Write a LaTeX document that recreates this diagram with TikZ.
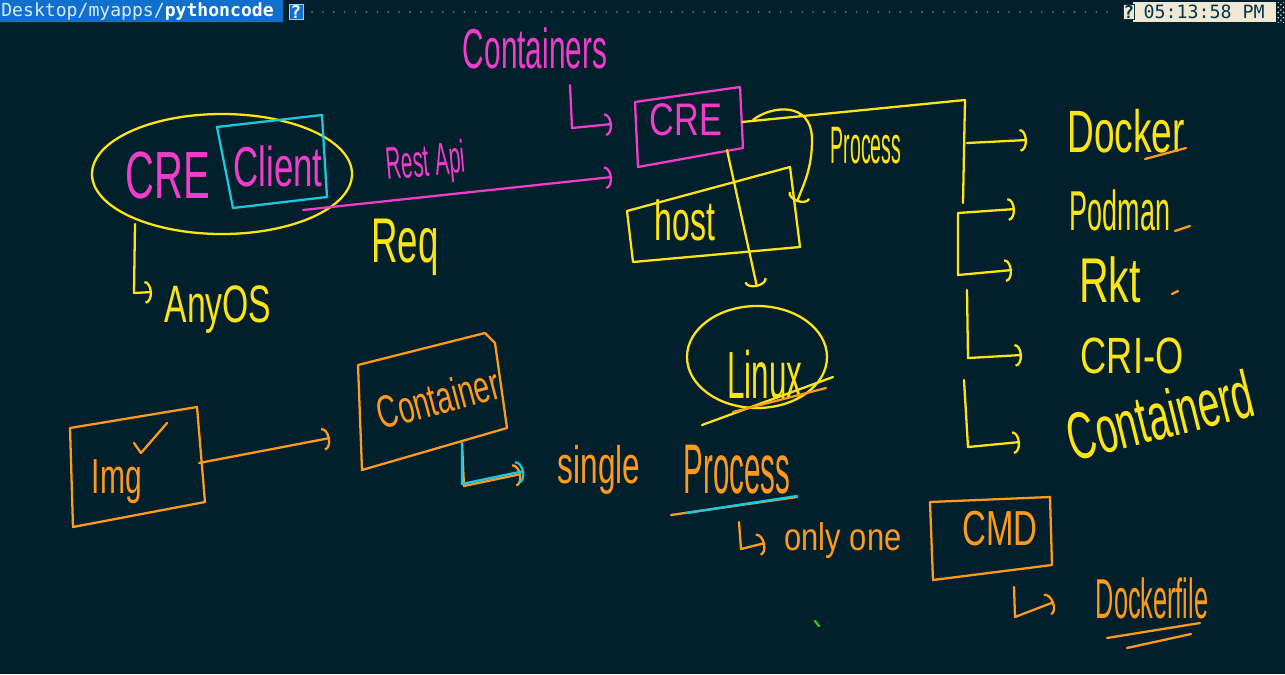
\documentclass[tikz,border=0pt]{standalone}
\usepackage{fontspec}
\setmainfont{Liberation Sans}
\setmonofont{DejaVu Sans Mono}
\usepackage{xcolor}
\usepackage{tikz}
\usetikzlibrary{arrows.meta}
\usetikzlibrary{patterns}

\definecolor{board}{HTML}{01202B}
\definecolor{barblue}{HTML}{1170CC}
\definecolor{clockbg}{HTML}{EEE8D5}
\definecolor{clockfg}{HTML}{073642}
\definecolor{dotgray}{HTML}{5D6F75}
\definecolor{inkyellow}{HTML}{FFE414}
\definecolor{inkpink}{HTML}{F23CCB}
\definecolor{inkcyan}{HTML}{1CC8DE}
\definecolor{inkorange}{HTML}{FF9A1C}
\definecolor{inkgreen}{HTML}{22CC22}

\newcommand{\ink}[1]{\fontsize{#1}{#1}\selectfont}

\tikzset{
  pen/.style={line width=1.3pt, line cap=round, line join=round},
  yel/.style={pen, draw=inkyellow},
  pnk/.style={pen, draw=inkpink},
  cyn/.style={pen, draw=inkcyan},
  org/.style={pen, draw=inkorange},
  barbed/.style={-{Arc Barb[length=4pt,width=13pt]}},
  scrawl/.style={inner sep=0pt, anchor=base},
}

\begin{document}
\begin{tikzpicture}[x=0.02cm, y=-0.02cm]
    % Fond
    \fill[board] (0,0) rectangle (1285,674);
    \useasboundingbox (0,0) rectangle (1285,674);

    % Barre du terminal
    \fill[barblue] (0,0) rectangle (283,22);
    \node[anchor=west, inner sep=0pt, text=white!85!barblue, font=\ttfamily\fontsize{10.3}{12}\selectfont] (cwd) at (1,11) {Desktop/myapps/\textbf{\color{white}pythoncode}};
    \node[draw=cyan!50!white, fill=barblue, text=white, inner sep=0pt, minimum width=0.28cm, minimum height=0.3cm, font=\ttfamily\bfseries\fontsize{10}{12}\selectfont] (helpl) at (296,12) {?};
    \coordinate (dotsend) at (1117,12);
    \draw[dotgray, line width=1.2pt, line cap=round, dash pattern=on 0pt off 6.2pt] (312,12) -- (dotsend);
    \fill[clockbg] (1133,2) rectangle (1276,22);
    \node[draw=clockfg, fill=clockbg, text=clockfg, inner sep=0pt, minimum width=0.22cm, minimum height=0.3cm, font=\ttfamily\bfseries\fontsize{10}{12}\selectfont] (helpr) at (1129,12) {?};
    \node[text=clockfg, inner sep=0pt, font=\ttfamily\fontsize{10.4}{12}\selectfont] (clock) at (1204,12) {05:13:58 PM};
    \fill[pattern=crosshatch dots, pattern color=clockbg] (1277,2) rectangle (1285,22);

    % Client CRE
    \coordinate (cloud) at (222,174);
    \draw[yel] (cloud) ellipse [x radius=130, y radius=60];
    \node[scrawl, text=inkpink, font=\ink{38}, xscale=0.6] (crelocal) at (168,198) {CRE};
    \draw[cyn] (217,127) -- (322,115) -- (327,197) -- (233,208) -- cycle;
    \node[scrawl, text=inkpink, font=\ink{32}, xscale=0.62] (client) at (278,186) {Client};

    % Requete REST
    \coordinate (reqfrom) at (303,210);
    \coordinate (reqto) at (612,177);
    \draw[pnk, barbed] (reqfrom) -- (reqto);
    \node[scrawl, text=inkpink, font=\ink{26}, rotate=5, xscale=0.46] (restapi) at (427,176) {Rest Api};
    \node[scrawl, text=inkyellow, font=\ink{36}, xscale=0.58] (req) at (405,262) {Req};

    % N'importe quel OS
    \coordinate (osfrom) at (135,224);
    \coordinate (osto) at (152,292);
    \draw[yel, barbed] (osfrom) -- (134,293) -- (osto);
    \node[scrawl, text=inkyellow, font=\ink{30}, xscale=0.64] (anyos) at (218,322) {AnyOS};

    % Containers -> CRE
    \node[scrawl, text=inkpink, font=\ink{32}, xscale=0.53] (containers) at (535,68) {Containers};
    \coordinate (cstem) at (570,85);
    \coordinate (crein) at (612,124);
    \draw[pnk, barbed] (cstem) -- (572,128) -- (crein);
    \draw[pnk] (635,102) -- (740,87) -- (743,148) -- (638,167) -- cycle;
    \node[scrawl, text=inkpink, font=\ink{26}, xscale=0.75] (cre) at (686,135) {CRE};

    % Host
    \draw[yel] (627,211) -- (790,167) -- (800,247) -- (633,262) -- cycle;
    \node[scrawl, text=inkyellow, font=\ink{32}, xscale=0.57] (host) at (685,240) {host};
    \coordinate (loopfrom) at (753,120);
    \coordinate (loopto) at (797,202);
    \draw[yel, barbed] (loopfrom) .. controls (770,106) and (812,100) .. (812,140) .. controls (812,170) and (803,185) .. (loopto);
    \node[scrawl, text=inkyellow, font=\ink{30}, xscale=0.37] (process) at (866,163) {Process};

    % Linux
    \coordinate (credown) at (727,150);
    \coordinate (linuxtop) at (757,287);
    \draw[yel, barbed] (credown) -- (linuxtop);
    \coordinate (linux) at (757,357);
    \draw[yel] (linux) ellipse [x radius=70, y radius=51];
    \node[scrawl, text=inkyellow, font=\ink{38}, xscale=0.47] (linuxlbl) at (765,398) {Linux};
    \draw[yel] (702,425) -- (833,377);
    \draw[org] (733,412) -- (826,388);

    % Runtimes
    \coordinate (creout) at (742,122);
    \coordinate (rtop) at (965,100);
    \draw[yel] (creout) -- (rtop) -- (963,203);
    \draw[yel, barbed] (967,143) -- (1027,140);
    \draw[yel, barbed] (958,213) -- (1015,209);
    \draw[yel, barbed] (958,213) -- (958,275) -- (1012,270);
    \draw[yel, barbed] (967,290) -- (968,358) -- (1022,355);
    \draw[yel, barbed] (964,380) -- (968,447) -- (1020,442);

    \node[scrawl, text=inkyellow, font=\ink{34}, xscale=0.62] (docker) at (1126,152) {Docker};
    \node[scrawl, text=inkyellow, font=\ink{32}, xscale=0.48] (podman) at (1120,230) {Podman};
    \node[scrawl, text=inkyellow, font=\ink{36}, xscale=0.65] (rkt) at (1110,302) {Rkt};
    \node[scrawl, text=inkyellow, font=\ink{29}, xscale=0.71] (crio) at (1132,373) {CRI-O};
    \node[inner sep=0pt, text=inkyellow, font=\ink{38}, rotate=14, xscale=0.58] (containerd) at (1160,415) {Containerd};
    \draw[org] (1145,159) -- (1186,148);
    \draw[org] (1175,231) -- (1190,226);
    \draw[org] (1172,294) -- (1178,291);

    % Image -> Container
    \draw[org] (70,428) -- (197,407) -- (205,502) -- (73,527) -- cycle;
    \node[scrawl, text=inkorange, font=\ink{28}, xscale=0.61] (img) at (117,493) {Img};
    \draw[org] (134,443) -- (141,453) -- (167,423);
    \coordinate (imgout) at (199,463);
    \coordinate (ctrin) at (330,438);
    \draw[org, barbed] (imgout) -- (ctrin);
    \draw[org] (358,365) -- (485,333) -- (495,343) -- (507,428) -- (362,470) -- cycle;
    \node[inner sep=0pt, text=inkorange, font=\ink{26}, rotate=15, xscale=0.63] (container) at (438,398) {Container};

    % Single process
    \coordinate (ctrbot) at (462,443);
    \draw[org, barbed] (ctrbot) -- (464,486) -- (521,474);
    \draw[cyn, barbed] (ctrbot) -- (462,484) -- (524,471);
    \node[scrawl, text=inkorange, font=\ink{30}, xscale=0.6] (single) at (599,483) {single};
    \node[scrawl, text=inkorange, font=\ink{40}, xscale=0.42] (procbis) at (737,493) {Process};
    \draw[org] (671,515) -- (797,497);
    \draw[cyn] (686,513) -- (797,496);

    % Une seule CMD
    \coordinate (onefrom) at (739,522);
    \draw[org, barbed] (onefrom) -- (741,549) -- (765,543);
    \node[scrawl, text=inkorange, font=\ink{22}, xscale=0.8] (onlyone) at (843,550) {only one};
    \draw[org] (930,502) -- (1050,497) -- (1052,565) -- (933,580) -- cycle;
    \node[scrawl, text=inkorange, font=\ink{28}, xscale=0.67] (cmd) at (1000,545) {CMD};
    \coordinate (cmdfrom) at (1014,587);
    \draw[org, barbed] (cmdfrom) -- (1015,617) -- (1054,602);
    \node[scrawl, text=inkorange, font=\ink{32}, xscale=0.45] (dockerfile) at (1152,618) {Dockerfile};
    \draw[org] (1107,638) -- (1200,623);
    \draw[org] (1127,648) -- (1191,634);

    \draw[pen, draw=inkgreen] (815,621) -- (819,626);
\end{tikzpicture}
\end{document}
